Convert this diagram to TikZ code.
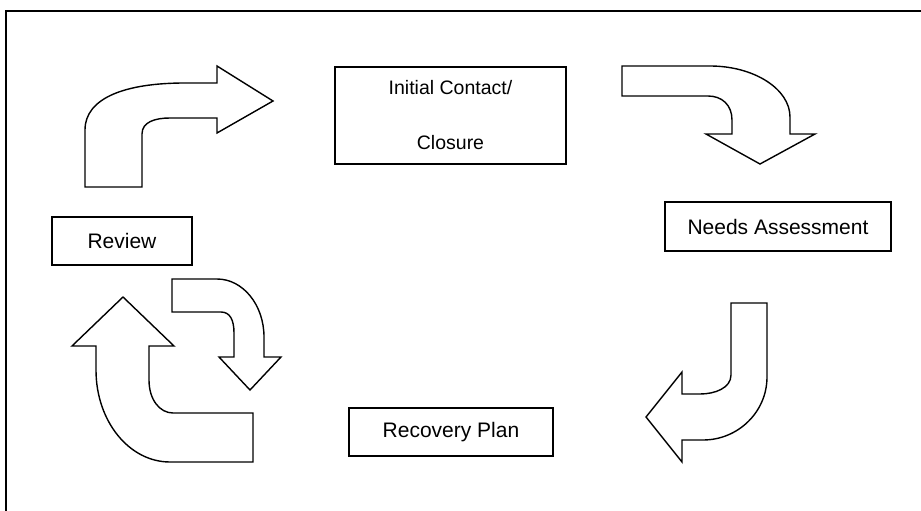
\documentclass[tikz,border=0pt]{standalone}
\usepackage{fontspec}
\setmainfont{Liberation Sans}
\usetikzlibrary{positioning}
\tikzset
{
    stage/.style     = {rectangle, draw=black, line width=1.5pt, align=center, inner sep=0pt, font=\fontsize{21}{25}\selectfont},
    bigarrow/.style  = {draw=black, fill=white, line width=1.4pt, line join=miter},
    frameline/.style = {draw=black, line width=1.5pt}
}

\begin{document}
\begin{tikzpicture}[x=1pt, y=-1pt]
   \useasboundingbox (0,0) rectangle (921,511);

   % frame
   \coordinate (ftl) at (6,11);
   \coordinate (ftr) at (921,11);
   \coordinate (fbl) at (6,511);
   \draw[frameline] (fbl) -- (ftl) -- (ftr);

   % boxes
   \node (ic) [stage, minimum width=231pt, minimum height=97pt, font=\fontsize{19.5}{55}\selectfont] at (450.5,115.5) {Initial Contact/\\Closure};
   \node (na) [stage, minimum width=226pt, minimum height=49pt] at (778,226.5) {Needs Assessment};
   \node (rp) [stage, minimum width=204pt, minimum height=48pt] at (451,432)   {Recovery Plan};
   \node (rv) [stage, minimum width=140pt, minimum height=48pt] at (122,241)   {Review};

   % bent arrows
   \draw[bigarrow] (85,187) -- (85,130) .. controls (85,98) and (125,83) .. (185,83)
        -- (217,83) -- (217,66) -- (273,101) -- (217,133) -- (217,118) -- (170,118)
        .. controls (155,118) and (142,122) .. (142,134) -- (142,187) -- cycle;
   \draw[bigarrow] (622,66) -- (710,66) .. controls (754,66) and (790,89) .. (790,117)
        -- (790,134) -- (815,134) -- (760,164) -- (706,134) -- (732,134) -- (732,120)
        .. controls (732,105) and (722,96) .. (708,96) -- (622,96) -- cycle;
   \draw[bigarrow] (731,303) -- (767,303) -- (767,377) .. controls (767,412) and (738,440) .. (703,440)
        -- (682,440) -- (682,462) -- (646,417) -- (682,372) -- (682,394) -- (700,394)
        .. controls (715,394) and (731,388) .. (731,375) -- cycle;
   \draw[bigarrow] (253,413) -- (253,462) -- (170,462) .. controls (129,462) and (96,421) .. (96,370)
        -- (96,346) -- (72,346) -- (123,297) -- (174,346) -- (149,346) -- (149,380)
        .. controls (149,400) and (160,413) .. (173,413) -- cycle;
   \draw[bigarrow] (172,279) -- (217,279) .. controls (243,279) and (264,305) .. (264,337)
        -- (264,357) -- (281,357) -- (250,390) -- (219,357) -- (234,357) -- (234,333)
        .. controls (234,320) and (230,312) .. (221,312) -- (172,312) -- cycle;
\end{tikzpicture}
\end{document}
